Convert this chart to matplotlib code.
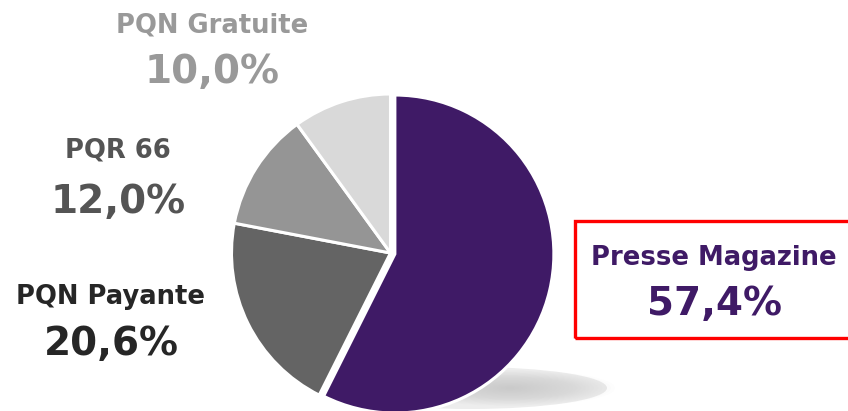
import matplotlib
matplotlib.use("Agg")
import matplotlib.pyplot as plt
from matplotlib.patches import Ellipse, Rectangle

# data
categories = ["Presse Magazine", "PQN Payante", "PQR 66", "PQN Gratuite"]
shares = [57.4, 20.6, 12.0, 10.0]
slice_colors = ["#3f1a66", "#646464", "#959595", "#d9d9d9"]
text_colors = ["#3f1a66", "#262626", "#545454", "#999999"]

W, H = 848, 411
fig = plt.figure(figsize=(W / 100, H / 100), dpi=100)
ax = fig.add_axes([0, 0, 1, 1])

def py(y):
    # pixel row -> data y
    return H - y

# soft shadow under the pie: light base plus darker core
ax.add_patch(Ellipse((470, py(388)), 274, 42, facecolor="#ededed",
                     edgecolor="none", zorder=0))
for i in range(25):
    k = 1 - i / 25
    ax.add_patch(Ellipse((510, py(388)), 210 * k, 36 * k,
                         facecolor="#b0b0b0", edgecolor="none",
                         alpha=0.022, zorder=0))

ax.pie(shares, colors=slice_colors, startangle=90, counterclock=False,
       center=(390.5, py(253)), radius=159, explode=[4.5, 0, 0, 0],
       wedgeprops=dict(edgecolor="white", linewidth=2.2), frame=True)
ax.set_xlim(0, W)
ax.set_ylim(0, H)
ax.set_aspect("equal")
ax.axis("off")

# highlight box around the main label
ax.add_patch(Rectangle((575, py(338)), 300, 117, facecolor="none",
                       edgecolor="#ff0000", linewidth=2.4, zorder=3))

# label layout: (x centre, label baseline, value baseline) in pixels
label_pos = [(714, 265, 315), (111, 304, 355), (118, 158, 213), (212, 32, 83)]

for name, v, c, (x, yl, yv) in zip(categories, shares, text_colors, label_pos):
    pct = f"{v:.1f}".replace(".", ",") + "%"
    ax.text(x, py(yl), name, ha="center", va="baseline", fontsize=18.6,
            fontweight="bold", color=c, family="DejaVu Sans", zorder=4)
    ax.text(x, py(yv), pct, ha="center", va="baseline", fontsize=28,
            fontweight="bold", color=c, family="DejaVu Sans", zorder=4)

fig.savefig("out.png", dpi=100)
